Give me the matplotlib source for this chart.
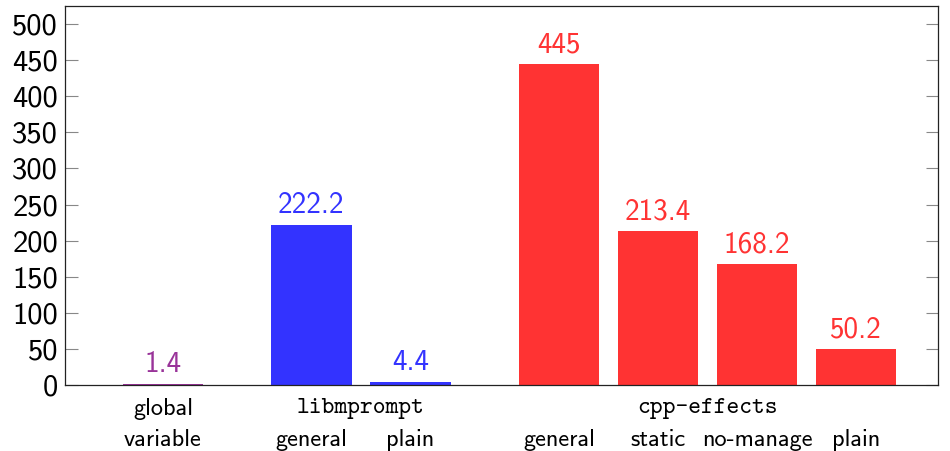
import matplotlib
matplotlib.use('Agg')
from matplotlib import pyplot as plt
from matplotlib import transforms

# bar values per configuration
values = [1.4, 222.2, 4.4, 445, 213.4, 168.2, 50.2]
bar_labels = ['', 'general', 'plain', 'general', 'static', 'no-manage', 'plain']
groups = ['global\nvariable', 'libmprompt', 'cpp-effects']
group_members = [[0], [1, 2], [3, 4, 5, 6]]
colors = ['#993399', '#3333ff', '#3333ff',
          '#ff3333', '#ff3333', '#ff3333', '#ff3333']

pos = [0, 1.5, 2.5, 4, 5, 6, 7]
sans = 'cmss10'
mono = 'cmtt10'

fig = plt.figure(figsize=(9.5, 4.51), dpi=100)
ax = fig.add_axes([0.0684, 0.1463, 0.9190, 0.8404])

ax.bar(pos, values, width=0.81, color=colors, linewidth=0)
for p, v, c in zip(pos, values, colors):
    ax.annotate('%g' % v, (p, v), xytext=(0, 4), textcoords='offset points',
                ha='center', va='bottom', color=c, fontsize=21, family=sans)

ax.set_xlim(-0.99, 7.83)
ax.set_ylim(0, 525)
ax.set_yticks(range(0, 501, 50))
ax.set_xticks([])
ax.tick_params(axis='y', direction='in', length=9, width=0.8, color='#888888',
               left=True, right=True, labelsize=22, pad=5)
for lab in ax.get_yticklabels():
    lab.set_family(sans)
for s in ax.spines.values():
    s.set_linewidth(0.9)
    s.set_color('#222222')

trans = transforms.blended_transform_factory(ax.transData, ax.transAxes)
for name, members in zip(groups, group_members):
    cx = (pos[members[0]] + pos[members[-1]]) / 2.0
    if '\n' in name:
        top, bottom = name.split('\n')
        ax.text(cx, -0.063, top, transform=trans, ha='center', va='center',
                fontsize=17.5, family=sans)
        ax.text(cx, -0.145, bottom, transform=trans, ha='center', va='center',
                fontsize=17.5, family=sans)
    else:
        ax.text(cx, -0.063, name, transform=trans, ha='center', va='center',
                fontsize=17.5, family=mono)
for p, lab in zip(pos, bar_labels):
    if lab:
        ax.text(p, -0.145, lab, transform=trans, ha='center', va='center',
                fontsize=17.5, family=sans)

plt.savefig('out.png', dpi=100)
